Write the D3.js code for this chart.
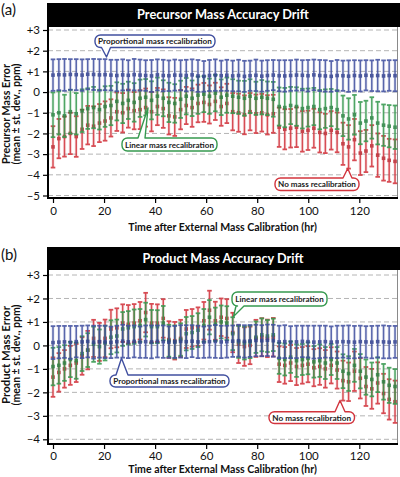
<!DOCTYPE html>
<html><head><meta charset="utf-8">
<script src="https://cdn.jsdelivr.net/npm/d3@7"></script>
<style>
body{margin:0;background:#fff}
svg{display:block}
text{font-family:Lato,"Open Sans",sans-serif}
</style>
</head><body>
<svg id="c" width="400" height="477"></svg>
<script>
// ---------- DATA ----------
const times = [0,2.3,4.5,6.8,9.1,11.4,13.6,15.9,18.2,20.4,22.7,25.0,27.3,29.5,31.8,34.1,36.3,38.6,40.9,43.2,45.4,47.7,50.0,52.2,54.5,56.8,59.1,61.3,63.6,65.9,68.1,70.4,72.7,75.0,77.2,79.5,81.8,84.0,86.3,88.6,90.8,93.1,95.4,97.7,99.9,102.2,104.5,106.7,109.0,111.3,113.6,115.8,118.1,120.4,122.6,124.9,127.2,129.5,131.7,134.0];

// Panel (a) precursor
const aBlueMean = [0.82,0.84,0.83,0.85,0.84,0.82,0.86,0.85,0.83,0.84,0.82,0.80,0.83,0.81,0.84,0.82,0.80,0.78,0.83,0.80,0.79,0.82,0.81,0.80,0.83,0.78,0.76,0.80,0.82,0.79,0.81,0.78,0.80,0.76,0.79,0.81,0.77,0.80,0.82,0.79,0.78,0.80,0.82,0.81,0.79,0.83,0.80,0.78,0.76,0.80,0.79,0.77,0.80,0.78,0.81,0.79,0.80,0.78,0.80,0.79];
const aBlueSd = [0.76,0.75,0.77,0.74,0.75,0.76,0.73,0.75,0.76,0.75,0.74,0.76,0.75,0.73,0.76,0.75,0.74,0.77,0.75,0.76,0.74,0.75,0.73,0.76,0.75,0.77,0.74,0.75,0.76,0.73,0.75,0.74,0.76,0.75,0.73,0.76,0.75,0.74,0.73,0.75,0.76,0.74,0.75,0.73,0.76,0.74,0.75,0.76,0.74,0.75,0.73,0.76,0.74,0.75,0.73,0.74,0.76,0.75,0.74,0.75];
const aGreenMean = [-1.1,-1.0,-1.15,-0.95,-1.05,-0.9,-0.8,-0.75,-0.85,-0.7,-0.65,-0.45,-0.55,-0.4,-0.5,-0.3,-0.25,-0.4,-0.2,-0.3,-0.5,-0.55,-0.35,-0.2,-0.3,-0.15,-0.1,-0.2,-0.05,-0.25,-0.15,-0.2,-0.25,-0.3,-0.2,-0.3,-0.25,-0.3,-0.35,-0.7,-0.75,-0.65,-0.7,-0.8,-0.75,-0.7,-0.85,-0.8,-0.75,-0.85,-1.15,-1.3,-1.1,-1.5,-1.4,-1.25,-1.5,-1.6,-1.65,-1.7];
const aGreenSd = [1.08,1.05,1.02,1.06,1.0,1.03,0.98,1.0,0.96,0.98,0.95,0.92,0.95,0.9,0.93,0.9,0.88,0.92,0.9,0.87,0.95,0.93,0.9,0.88,0.86,0.9,0.87,0.85,0.88,0.86,0.85,0.82,0.8,0.84,0.82,0.8,0.83,0.81,0.84,0.92,0.95,0.9,0.93,0.96,0.92,0.9,0.95,0.93,0.9,0.94,0.98,1.0,0.96,1.02,0.98,1.0,1.03,1.0,1.02,1.05];
const aRedMean = [-2.65,-2.25,-2.15,-2.0,-2.15,-1.8,-1.6,-1.65,-1.5,-1.4,-1.25,-0.95,-1.0,-0.8,-0.9,-0.85,-0.75,-0.95,-0.7,-0.8,-1.15,-1.2,-0.85,-0.65,-0.75,-0.55,-0.5,-0.6,-0.45,-0.7,-0.55,-0.95,-1.0,-1.1,-0.95,-1.05,-1.0,-1.1,-1.05,-1.7,-1.8,-1.75,-1.7,-1.9,-1.85,-1.75,-1.95,-2.0,-1.85,-1.95,-2.5,-2.65,-2.3,-2.95,-2.85,-2.6,-3.05,-3.2,-3.3,-3.35];
const aRedSd = [1.0,0.95,0.97,1.0,0.98,0.95,0.93,0.96,0.92,0.95,0.9,0.93,0.95,0.92,0.9,0.94,0.92,0.95,0.9,0.93,0.9,0.92,0.95,0.9,0.93,0.91,0.94,0.92,0.9,0.93,0.95,0.9,0.92,0.94,0.9,0.93,0.91,0.95,0.92,0.95,0.97,0.93,0.96,0.98,0.95,0.94,0.97,0.95,0.93,0.96,1.02,1.05,1.0,1.06,1.02,1.0,1.05,1.08,1.04,1.06];

// Panel (b) product
const bBlueMean = [0.12,0.14,0.15,0.13,0.16,0.15,0.17,0.14,0.16,0.15,0.13,0.16,0.18,0.15,0.17,0.14,0.16,0.15,0.17,0.16,0.14,0.15,0.17,0.16,0.18,0.15,0.14,0.16,0.17,0.15,0.16,0.18,0.2,0.17,0.19,0.21,0.2,0.22,0.2,0.15,0.16,0.14,0.15,0.17,0.16,0.14,0.15,0.16,0.14,0.15,0.16,0.15,0.14,0.16,0.15,0.14,0.16,0.15,0.14,0.15];
const bBlueSd = [0.7,0.69,0.68,0.7,0.67,0.69,0.68,0.7,0.68,0.69,0.67,0.68,0.7,0.69,0.68,0.67,0.69,0.7,0.68,0.69,0.67,0.68,0.69,0.7,0.68,0.69,0.67,0.68,0.7,0.69,0.68,0.67,0.68,0.69,0.68,0.67,0.66,0.67,0.68,0.69,0.7,0.68,0.69,0.67,0.68,0.7,0.69,0.68,0.67,0.69,0.68,0.7,0.69,0.68,0.67,0.69,0.68,0.7,0.69,0.68];
const bGreenMean = [-0.9,-0.85,-0.75,-0.6,-0.65,-0.35,-0.2,0.05,-0.05,0.1,0.35,0.4,0.7,0.75,0.8,0.85,1.1,0.8,0.8,0.95,0.2,0.15,0.25,0.5,0.55,0.65,0.85,1.2,0.9,1.0,0.95,0.5,0.15,0.1,0.15,0.35,0.45,0.4,0.45,-0.55,-0.6,-0.5,-0.65,-0.6,-0.55,-0.7,-0.65,-0.75,-0.6,-0.75,-1.1,-1.2,-0.85,-1.1,-1.35,-1.45,-1.25,-1.55,-1.7,-1.75];
const bGreenSd = [0.8,0.78,0.76,0.75,0.77,0.74,0.72,0.75,0.73,0.74,0.72,0.7,0.72,0.71,0.73,0.7,0.72,0.71,0.7,0.73,0.68,0.7,0.69,0.71,0.7,0.72,0.7,0.73,0.71,0.7,0.72,0.7,0.68,0.7,0.69,0.67,0.7,0.68,0.69,0.66,0.68,0.67,0.69,0.66,0.68,0.67,0.69,0.68,0.66,0.68,0.72,0.74,0.7,0.73,0.75,0.72,0.74,0.76,0.75,0.74];
const bRedMean = [-1.35,-1.15,-1.0,-0.85,-0.75,-0.45,-0.2,0.3,0.15,0.3,0.7,0.75,0.95,0.9,0.95,1.05,1.4,0.95,0.95,1.15,0.25,0.2,0.3,0.7,0.75,0.8,1.05,1.5,1.05,1.2,1.15,0.55,0.05,-0.05,0.0,0.3,0.35,0.3,0.35,-0.8,-0.85,-0.75,-0.9,-0.85,-0.8,-0.95,-0.9,-1.0,-0.85,-1.05,-1.5,-1.55,-1.1,-1.4,-1.75,-1.85,-1.6,-2.05,-2.3,-2.4];
const bRedSd = [0.84,0.82,0.8,0.83,0.81,0.8,0.82,0.79,0.81,0.8,0.82,0.83,0.8,0.82,0.81,0.8,0.84,0.82,0.8,0.82,0.78,0.8,0.79,0.81,0.8,0.82,0.8,0.83,0.81,0.8,0.82,0.84,0.8,0.82,0.8,0.79,0.81,0.8,0.82,0.76,0.78,0.77,0.79,0.78,0.77,0.79,0.78,0.8,0.77,0.79,0.85,0.82,0.84,0.86,0.83,0.85,0.88,0.84,0.86,0.9];

const xTicks = [0,20,40,60,80,100,120];
const yTicksA = [3,2,1,0,-1,-2,-3,-4,-5];
const yTicksB = [3,2,1,0,-1,-2,-3,-4];
const xLabel = "Time after External Mass Calibration (hr)";
const seriesNames = ["No mass recalibration","Linear mass recalibration","Proportional mass recalibration"];

// ---------- STYLE ----------
const COL = {red:"#d2343d", green:"#36994f", blue:"#4150a0"};
const DOT = {red:"#bd2a33", green:"#2b8443", blue:"#334290"};

const svg = d3.select("#c");

function fit(sel, w){
  const l = sel.node().getComputedTextLength();
  const fs = parseFloat(sel.attr("font-size"));
  sel.attr("font-size", (fs*w/l).toFixed(2));
}

function calloutPath(b, t){
  const [x0,y0,x1,y1] = b; const r = Math.min(5.5,(y1-y0)/2);
  let p = `M${x0+r},${y0}`;
  if(t.side==="top") p += `L${t.b0},${y0}L${t.ax},${t.ay}L${t.b1},${y0}`;
  p += `L${x1-r},${y0}A${r},${r} 0 0 1 ${x1},${y0+r}L${x1},${y1-r}A${r},${r} 0 0 1 ${x1-r},${y1}`;
  if(t.side==="bottom") p += `L${t.b1},${y1}L${t.ax},${t.ay}L${t.b0},${y1}`;
  p += `L${x0+r},${y1}A${r},${r} 0 0 1 ${x0},${y1-r}L${x0},${y0+r}A${r},${r} 0 0 1 ${x0+r},${y0}Z`;
  return p;
}

function drawSeries(g, x, y, mean, sd, key){
  const data = times.map((t,i)=>({t, m:mean[i], s:sd[i]}));
  const s = g.append("g").attr("opacity",0.88);
  s.selectAll("line.h").data(data).join("line").attr("class","h")
    .attr("x1",d=>x(d.t)).attr("x2",d=>x(d.t))
    .attr("y1",d=>y(d.m+d.s)).attr("y2",d=>y(d.m-d.s))
    .attr("stroke",COL[key]).attr("stroke-opacity",0.14).attr("stroke-width",3.2);
  s.selectAll("line.v").data(data).join("line").attr("class","v")
    .attr("x1",d=>x(d.t)).attr("x2",d=>x(d.t))
    .attr("y1",d=>y(d.m+d.s)).attr("y2",d=>y(d.m-d.s))
    .attr("stroke",COL[key]).attr("stroke-width",1.5);
  ["hi","lo"].forEach(k=>{
    s.selectAll("line.c"+k).data(data).join("line").attr("class","c"+k)
      .attr("x1",d=>x(d.t)-2.3).attr("x2",d=>x(d.t)+2.3)
      .attr("y1",d=>y(k==="hi"?d.m+d.s:d.m-d.s)).attr("y2",d=>y(k==="hi"?d.m+d.s:d.m-d.s))
      .attr("stroke",COL[key]).attr("stroke-width",1.8);
  });
  s.selectAll("rect.d").data(data).join("rect").attr("class","d")
    .attr("x",d=>x(d.t)-1.8).attr("y",d=>y(d.m)-1.8)
    .attr("width",3.6).attr("height",3.6).attr("fill",DOT[key]);
}

function panel(cfg){
  const g = svg.append("g");
  const x = d3.scaleLinear().domain([0,120]).range([53,359.3]);
  const y = d3.scaleLinear().domain(cfg.yDomain).range(cfg.yRange);
  const L = 48, R = 397.5;

  g.append("g").selectAll("line").data(cfg.yTicks).join("line")
    .attr("x1",L).attr("x2",R).attr("y1",d=>y(d)).attr("y2",d=>y(d))
    .attr("stroke","#b4b4b4").attr("stroke-width",1).attr("stroke-dasharray","5,3");
  g.append("line").attr("x1",R).attr("x2",R).attr("y1",cfg.top).attr("y2",cfg.bottom)
    .attr("stroke","#8a8a8a").attr("stroke-width",1);

  drawSeries(g,x,y,cfg.red[0],cfg.red[1],"red");
  drawSeries(g,x,y,cfg.green[0],cfg.green[1],"green");
  drawSeries(g,x,y,cfg.blue[0],cfg.blue[1],"blue");

  const ya = g.append("g").attr("transform",`translate(${L},0)`)
    .call(d3.axisLeft(y).tickValues(cfg.yTicks).tickSize(5).tickPadding(3)
      .tickFormat(d=>d>0?"+"+d:(d<0?"\u2013"+Math.abs(d):"0")));
  ya.select(".domain").remove();
  ya.selectAll(".tick line").attr("stroke","#000").attr("stroke-width",1.2);
  ya.selectAll(".tick text").attr("font-size",11.5).attr("fill","#111").attr("font-family","Lato,sans-serif");

  const xa = g.append("g").attr("transform",`translate(0,${cfg.bottom})`)
    .call(d3.axisBottom(x).tickValues(xTicks).tickSize(5).tickPadding(cfg.xPad));
  xa.select(".domain").remove();
  xa.selectAll(".tick line").attr("stroke","#000").attr("stroke-width",1.2);
  xa.selectAll(".tick text").attr("font-size",11.5).attr("fill","#111").attr("font-family","Lato,sans-serif");

  g.append("line").attr("x1",L).attr("x2",L).attr("y1",cfg.top).attr("y2",cfg.bottom+1)
    .attr("stroke","#000").attr("stroke-width",2);
  g.append("line").attr("x1",L-1).attr("x2",R+0.5).attr("y1",cfg.bottom).attr("y2",cfg.bottom)
    .attr("stroke","#000").attr("stroke-width",2);

  g.append("rect").attr("x",47).attr("y",cfg.barTop).attr("width",353).attr("height",cfg.top-cfg.barTop).attr("fill","#000");
  const tt = g.append("text").attr("x",223).attr("y",cfg.titleBase).attr("text-anchor","middle")
    .attr("font-size",14).attr("font-weight",700).attr("fill","#fff").text(cfg.title);
  fit(tt, cfg.titleW);

  g.append("text").attr("x",1).attr("y",cfg.letterBase).attr("font-size",15).attr("fill","#111").text(cfg.letter);

  const yt1 = g.append("text").attr("transform",`translate(9.5,${cfg.yTitleC}) rotate(-90)`)
    .attr("text-anchor","middle").attr("font-size",10).attr("font-weight",700).attr("fill","#111").text(cfg.yTitle1);
  fit(yt1, cfg.yTitleW1);
  const yt2 = g.append("text").attr("transform",`translate(19.5,${cfg.yTitleC}) rotate(-90)`)
    .attr("text-anchor","middle").attr("font-size",10).attr("font-weight",700).attr("fill","#111").text("(mean \u00b1 st. dev., ppm)");
  fit(yt2, 101);

  const xt = g.append("text").attr("x",222.5).attr("y",cfg.xTitleBase).attr("text-anchor","middle")
    .attr("font-size",12).attr("font-weight",700).attr("fill","#111").text(xLabel);
  fit(xt, 189);

  cfg.callouts.forEach(c=>{
    g.append("path").attr("d",calloutPath(c.box,c.tail)).attr("fill","#fff")
      .attr("stroke",COL[c.key]).attr("stroke-width",1.4).attr("stroke-linejoin","round");
    const ct = g.append("text").attr("x",(c.box[0]+c.box[2])/2).attr("y",(c.box[1]+c.box[3])/2+3.2)
      .attr("text-anchor","middle").attr("font-size",9).attr("font-weight",700).attr("fill","#1a1a1a").text(c.text);
    fit(ct, c.w);
  });
}

panel({
  letter:"(a)", letterBase:15, title:"Precursor Mass Accuracy Drift", titleW:172, titleBase:19,
  barTop:3, top:27, bottom:198, yDomain:[-5,3], yRange:[195.5,30], yTicks:yTicksA, xPad:4,
  yTitle1:"Precursor Mass Error", yTitleW1:100, yTitleC:114, xTitleBase:230.5,
  red:[aRedMean,aRedSd], green:[aGreenMean,aGreenSd], blue:[aBlueMean,aBlueSd],
  callouts:[
    {key:"blue", text:seriesNames[2], w:114, box:[95,35,215,47.5], tail:{side:"bottom",b0:101.5,b1:110.5,ax:106.5,ay:57}},
    {key:"green", text:seriesNames[1], w:89, box:[122,138,217,151], tail:{side:"top",b0:138,b1:145,ax:148,ay:108}},
    {key:"red", text:seriesNames[0], w:78, box:[275,178,359,190.5], tail:{side:"top",b0:343,b1:352,ax:347.7,ay:168.5}}
  ]
});

panel({
  letter:"(b)", letterBase:260, title:"Product Mass Accuracy Drift", titleW:161, titleBase:263,
  barTop:247, top:270, bottom:444, yDomain:[-4,3], yRange:[439.3,275], yTicks:yTicksB, xPad:3.2,
  yTitle1:"Product Mass Error", yTitleW1:98, yTitleC:355, xTitleBase:473,
  red:[bRedMean,bRedSd], green:[bGreenMean,bGreenSd], blue:[bBlueMean,bBlueSd],
  callouts:[
    {key:"green", text:seriesNames[1], w:88.5, box:[232,292,327,306], tail:{side:"bottom",b0:236,b1:244,ax:233.5,ay:316.5}},
    {key:"blue", text:seriesNames[2], w:112.5, box:[110,375,229,387], tail:{side:"top",b0:116,b1:128,ax:121.5,ay:358.3}},
    {key:"red", text:seriesNames[0], w:79, box:[269,411.7,354.5,423.5], tail:{side:"top",b0:335,b1:345,ax:340,ay:400.5}}
  ]
});
</script>
</body></html>
